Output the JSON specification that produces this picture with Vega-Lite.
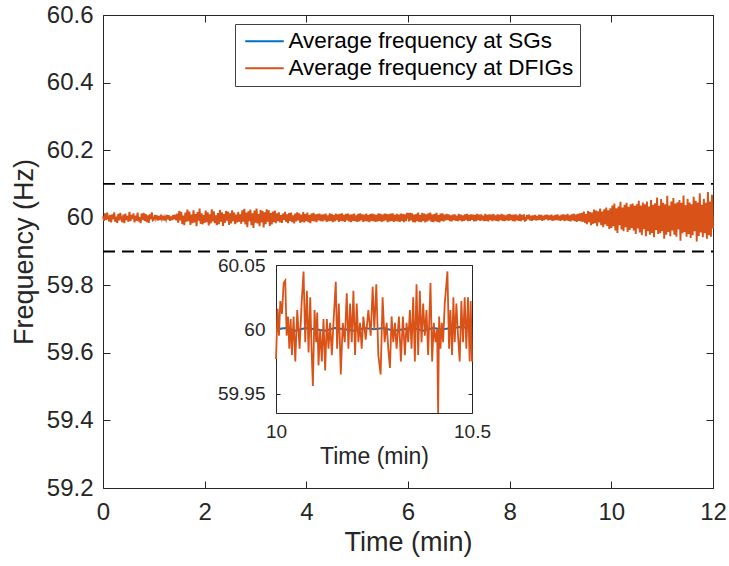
{
"$schema": "https://vega.github.io/schema/vega-lite/v6.json",
"width": 610, "height": 473,
"autosize": {"type": "none"},
"padding": {"left": 103, "top": 15, "right": 16, "bottom": 78},
"background": "white",
"config": {
  "view": {"stroke": null},
  "font": "Liberation Sans",
  "axis": {"domainColor": "#262626", "tickColor": "#262626", "labelColor": "#262626", "titleColor": "#262626", "grid": false, "titleFontWeight": "normal", "labelFont": "Liberation Sans", "titleFont": "Liberation Sans", "domainWidth": 1, "tickWidth": 1, "labelOverlap": false, "labelFlush": false, "labelBound": false},
  "legend": {"labelFont": "Liberation Sans"}
},
"datasets": {
  "limits": [{"f": 60.1}, {"f": 59.9}],
  "sgMain": [{"t":0,"f":60.000},{"t":0.5,"f":60.001},{"t":1,"f":59.999},{"t":1.5,"f":60.001},{"t":2,"f":59.999},{"t":2.5,"f":60.000},{"t":3,"f":60.001},{"t":3.5,"f":59.999},{"t":4,"f":60.000},{"t":4.5,"f":60.001},{"t":5,"f":59.999},{"t":5.5,"f":60.000},{"t":6,"f":60.001},{"t":6.5,"f":59.999},{"t":7,"f":60.000},{"t":7.5,"f":60.001},{"t":8,"f":59.999},{"t":8.5,"f":60.000},{"t":9,"f":60.001},{"t":9.5,"f":59.999},{"t":10,"f":60.000},{"t":10.5,"f":60.001},{"t":11,"f":59.999},{"t":11.5,"f":60.001},{"t":12,"f":60.000}],
  "dfigMain": [
{"t":0.00,"f":60.004},{"t":0.02,"f":59.991},{"t":0.04,"f":60.013},{"t":0.06,"f":59.994},{"t":0.08,"f":60.015},{"t":0.10,"f":60.002},{"t":0.12,"f":59.989},{"t":0.14,"f":60.008},{"t":0.16,"f":59.986},{"t":0.18,"f":60.010},{"t":0.20,"f":59.995},{"t":0.22,"f":60.016},{"t":0.24,"f":59.988},{"t":0.26,"f":60.003},{"t":0.28,"f":59.985},{"t":0.30,"f":60.011},{"t":0.32,"f":59.992},{"t":0.34,"f":60.014},{"t":0.36,"f":59.997},{"t":0.38,"f":59.987},{"t":0.40,"f":60.009},{"t":0.42,"f":59.984},{"t":0.44,"f":60.012},{"t":0.46,"f":59.993},{"t":0.48,"f":60.005},{"t":0.50,"f":59.988},{"t":0.52,"f":60.017},{"t":0.54,"f":59.990},{"t":0.56,"f":60.008},{"t":0.58,"f":59.996},{"t":0.60,"f":60.013},{"t":0.62,"f":59.986},{"t":0.64,"f":60.006},{"t":0.66,"f":59.991},{"t":0.68,"f":60.015},{"t":0.70,"f":59.989},{"t":0.72,"f":60.002},{"t":0.74,"f":59.984},{"t":0.76,"f":60.012},{"t":0.78,"f":59.994},{"t":0.80,"f":60.014},{"t":0.82,"f":59.991},{"t":0.84,"f":60.011},{"t":0.86,"f":59.987},{"t":0.88,"f":60.007},{"t":0.90,"f":59.985},{"t":0.92,"f":60.010},{"t":0.94,"f":59.995},{"t":0.96,"f":60.016},{"t":0.98,"f":59.992},
{"t":1.00,"f":59.994},{"t":1.02,"f":60.008},{"t":1.04,"f":59.997},{"t":1.06,"f":60.007},{"t":1.08,"f":59.992},{"t":1.10,"f":60.005},{"t":1.12,"f":59.993},{"t":1.14,"f":60.009},{"t":1.16,"f":59.996},{"t":1.18,"f":60.006},{"t":1.20,"f":59.992},{"t":1.22,"f":60.003},{"t":1.24,"f":59.994},{"t":1.26,"f":60.008},{"t":1.28,"f":59.995},{"t":1.30,"f":60.007},{"t":1.32,"f":59.991},{"t":1.34,"f":60.004},{"t":1.36,"f":59.993},{"t":1.38,"f":60.008},{"t":1.40,"f":59.995},{"t":1.42,"f":60.009},{"t":1.44,"f":59.992},
{"t":1.46,"f":60.012},{"t":1.48,"f":59.985},{"t":1.50,"f":60.020},{"t":1.52,"f":59.992},{"t":1.54,"f":60.017},{"t":1.56,"f":59.981},{"t":1.58,"f":60.006},{"t":1.60,"f":59.978},{"t":1.62,"f":60.015},{"t":1.64,"f":59.988},{"t":1.66,"f":60.024},{"t":1.68,"f":59.990},{"t":1.70,"f":60.018},{"t":1.72,"f":59.979},{"t":1.74,"f":60.009},{"t":1.76,"f":59.984},{"t":1.78,"f":60.022},{"t":1.80,"f":59.986},{"t":1.82,"f":60.011},{"t":1.84,"f":59.975},{"t":1.86,"f":60.017},{"t":1.88,"f":59.991},{"t":1.90,"f":60.027},{"t":1.92,"f":59.982},{"t":1.94,"f":60.013},{"t":1.96,"f":59.980},{"t":1.98,"f":60.008},{"t":2.00,"f":59.985},{"t":2.02,"f":60.021},{"t":2.04,"f":59.987},{"t":2.06,"f":60.016},{"t":2.08,"f":59.977},{"t":2.10,"f":60.010},{"t":2.12,"f":59.983},{"t":2.14,"f":60.025},{"t":2.16,"f":59.989},{"t":2.18,"f":60.019},{"t":2.20,"f":59.984},{"t":2.22,"f":60.007},{"t":2.24,"f":59.978},{"t":2.26,"f":60.014},{"t":2.28,"f":59.981},{"t":2.30,"f":60.023},{"t":2.32,"f":59.988},{"t":2.34,"f":60.016},{"t":2.36,"f":59.976},{"t":2.38,"f":60.011},{"t":2.40,"f":59.985},{"t":2.42,"f":60.020},{"t":2.44,"f":59.991},{"t":2.46,"f":60.018},{"t":2.48,"f":59.979},{"t":2.50,"f":60.013},{"t":2.52,"f":59.983},{"t":2.54,"f":60.022},{"t":2.56,"f":59.990},{"t":2.58,"f":60.015},{"t":2.60,"f":59.981},{"t":2.62,"f":60.009},{"t":2.64,"f":59.986},{"t":2.66,"f":60.017},{"t":2.68,"f":59.988},{"t":2.70,"f":60.010},
{"t":2.72,"f":59.982},{"t":2.74,"f":60.022},{"t":2.76,"f":59.988},{"t":2.78,"f":60.026},{"t":2.80,"f":59.980},{"t":2.82,"f":60.015},{"t":2.84,"f":59.972},{"t":2.86,"f":60.019},{"t":2.88,"f":59.990},{"t":2.90,"f":60.024},{"t":2.92,"f":59.978},{"t":2.94,"f":60.013},{"t":2.96,"f":59.970},{"t":2.98,"f":60.021},{"t":3.00,"f":59.985},{"t":3.02,"f":60.027},{"t":3.04,"f":59.983},{"t":3.06,"f":60.011},{"t":3.08,"f":59.975},{"t":3.10,"f":60.023},{"t":3.12,"f":59.986},{"t":3.14,"f":60.020},{"t":3.16,"f":59.971},{"t":3.18,"f":60.016},{"t":3.20,"f":59.981},{"t":3.22,"f":60.025},{"t":3.24,"f":59.988},{"t":3.26,"f":60.022},{"t":3.28,"f":59.976},{"t":3.30,"f":60.014},{"t":3.32,"f":59.980},{"t":3.34,"f":60.018},{"t":3.36,"f":59.987},{"t":3.38,"f":60.021},{"t":3.40,"f":59.984},
{"t":3.42,"f":60.013},{"t":3.44,"f":59.990},{"t":3.46,"f":60.016},{"t":3.48,"f":59.986},{"t":3.50,"f":60.008},{"t":3.52,"f":59.985},{"t":3.54,"f":60.012},{"t":3.56,"f":59.994},{"t":3.58,"f":60.017},{"t":3.60,"f":59.988},{"t":3.62,"f":60.010},{"t":3.64,"f":59.984},{"t":3.66,"f":60.014},{"t":3.68,"f":59.991},{"t":3.70,"f":60.015},{"t":3.72,"f":59.987},{"t":3.74,"f":60.007},{"t":3.76,"f":59.983},{"t":3.78,"f":60.012},{"t":3.80,"f":59.989},{"t":3.82,"f":60.016},{"t":3.84,"f":59.992},{"t":3.86,"f":60.013},{"t":3.88,"f":59.985},{"t":3.90,"f":60.009},{"t":3.92,"f":59.988},{"t":3.94,"f":60.017},{"t":3.96,"f":59.986},{"t":3.98,"f":60.011},{"t":4.00,"f":59.990},{"t":4.02,"f":60.015},{"t":4.04,"f":59.987},{"t":4.06,"f":60.008},{"t":4.08,"f":59.984},{"t":4.10,"f":60.012},{"t":4.12,"f":59.991},{"t":4.14,"f":60.014},{"t":4.16,"f":59.989},{"t":4.18,"f":60.010},{"t":4.20,"f":59.987},{"t":4.22,"f":60.011},{"t":4.24,"f":59.992},{"t":4.26,"f":60.012},{"t":4.28,"f":59.990},{"t":4.30,"f":60.009},
{"t":4.32,"f":59.989},{"t":4.34,"f":60.010},{"t":4.36,"f":59.992},{"t":4.38,"f":60.012},{"t":4.40,"f":59.988},{"t":4.42,"f":60.007},{"t":4.44,"f":59.990},{"t":4.46,"f":60.013},{"t":4.48,"f":59.991},{"t":4.50,"f":60.011},{"t":4.52,"f":59.987},{"t":4.54,"f":60.008},{"t":4.56,"f":59.989},{"t":4.58,"f":60.012},{"t":4.60,"f":59.993},{"t":4.62,"f":60.010},{"t":4.64,"f":59.988},{"t":4.66,"f":60.011},{"t":4.68,"f":59.991},{"t":4.70,"f":60.013},{"t":4.72,"f":59.990},{"t":4.74,"f":60.008},{"t":4.76,"f":59.988},{"t":4.78,"f":60.011},{"t":4.80,"f":59.992},{"t":4.82,"f":60.012},{"t":4.84,"f":59.989},{"t":4.86,"f":60.009},{"t":4.88,"f":59.987},{"t":4.90,"f":60.010},{"t":4.92,"f":59.991},{"t":4.94,"f":60.012},{"t":4.96,"f":59.990},{"t":4.98,"f":60.007},{"t":5.00,"f":59.988},{"t":5.02,"f":60.011},{"t":5.04,"f":59.989},{"t":5.06,"f":60.013},{"t":5.08,"f":59.992},{"t":5.10,"f":60.010},{"t":5.12,"f":59.988},{"t":5.14,"f":60.009},{"t":5.16,"f":59.990},{"t":5.18,"f":60.012},{"t":5.20,"f":59.989},{"t":5.22,"f":60.008},{"t":5.24,"f":59.987},{"t":5.26,"f":60.011},{"t":5.28,"f":59.991},{"t":5.30,"f":60.012},{"t":5.32,"f":59.990},{"t":5.34,"f":60.010},{"t":5.36,"f":59.988},{"t":5.38,"f":60.008},{"t":5.40,"f":59.989},{"t":5.42,"f":60.013},{"t":5.44,"f":59.991},{"t":5.46,"f":60.011},{"t":5.48,"f":59.988},{"t":5.50,"f":60.009},{"t":5.52,"f":59.990},{"t":5.54,"f":60.012},{"t":5.56,"f":59.992},{"t":5.58,"f":60.011},{"t":5.60,"f":59.987},{"t":5.62,"f":60.010},{"t":5.64,"f":59.989},{"t":5.66,"f":60.012},{"t":5.68,"f":59.991},{"t":5.70,"f":60.013},{"t":5.72,"f":59.988},{"t":5.74,"f":60.008},{"t":5.76,"f":59.990},{"t":5.78,"f":60.011},{"t":5.80,"f":59.989},{"t":5.82,"f":60.009},{"t":5.84,"f":59.988},{"t":5.86,"f":60.012},{"t":5.88,"f":59.991},{"t":5.90,"f":60.011},{"t":5.92,"f":59.987},{"t":5.94,"f":60.010},{"t":5.96,"f":59.990},{"t":5.98,"f":60.012},
{"t":6.00,"f":60.012},{"t":6.02,"f":59.989},{"t":6.04,"f":60.014},{"t":6.06,"f":59.992},{"t":6.08,"f":60.013},{"t":6.10,"f":59.987},{"t":6.12,"f":60.009},{"t":6.14,"f":59.986},{"t":6.16,"f":60.011},{"t":6.18,"f":59.990},{"t":6.20,"f":60.015},{"t":6.22,"f":59.988},{"t":6.24,"f":60.008},{"t":6.26,"f":59.987},{"t":6.28,"f":60.014},{"t":6.30,"f":59.991},{"t":6.32,"f":60.012},{"t":6.34,"f":59.986},{"t":6.36,"f":60.010},{"t":6.38,"f":59.989},{"t":6.40,"f":60.013},{"t":6.42,"f":59.992},{"t":6.44,"f":60.015},{"t":6.46,"f":59.988},{"t":6.48,"f":60.009},{"t":6.50,"f":59.987},{"t":6.52,"f":60.011},{"t":6.54,"f":59.990},{"t":6.56,"f":60.014},{"t":6.58,"f":59.988},{"t":6.60,"f":60.008},{"t":6.62,"f":59.986},{"t":6.64,"f":60.012},{"t":6.66,"f":59.991},{"t":6.68,"f":60.013},{"t":6.70,"f":59.989},
{"t":6.72,"f":60.009},{"t":6.74,"f":59.992},{"t":6.76,"f":60.011},{"t":6.78,"f":59.994},{"t":6.80,"f":60.010},{"t":6.82,"f":59.990},{"t":6.84,"f":60.007},{"t":6.86,"f":59.989},{"t":6.88,"f":60.009},{"t":6.90,"f":59.993},{"t":6.92,"f":60.010},{"t":6.94,"f":59.991},{"t":6.96,"f":60.006},{"t":6.98,"f":59.990},{"t":7.00,"f":60.011},{"t":7.02,"f":59.992},{"t":7.04,"f":60.009},{"t":7.06,"f":59.989},{"t":7.08,"f":60.007},{"t":7.10,"f":59.991},{"t":7.12,"f":60.010},{"t":7.14,"f":59.993},{"t":7.16,"f":60.011},{"t":7.18,"f":59.990},{"t":7.20,"f":60.008},{"t":7.22,"f":59.991},{"t":7.24,"f":60.010},{"t":7.26,"f":59.994},{"t":7.28,"f":60.009},{"t":7.30,"f":59.989},{"t":7.32,"f":60.008},{"t":7.34,"f":59.990},{"t":7.36,"f":60.011},{"t":7.38,"f":59.993},{"t":7.40,"f":60.009},{"t":7.42,"f":59.991},{"t":7.44,"f":60.010},{"t":7.46,"f":59.992},{"t":7.48,"f":60.006},{"t":7.50,"f":59.990},{"t":7.52,"f":60.011},{"t":7.54,"f":59.991},{"t":7.56,"f":60.008},{"t":7.58,"f":59.989},{"t":7.60,"f":60.010},{"t":7.62,"f":59.993},{"t":7.64,"f":60.009},{"t":7.66,"f":59.990},{"t":7.68,"f":60.011},{"t":7.70,"f":59.992},{"t":7.72,"f":60.007},{"t":7.74,"f":59.991},{"t":7.76,"f":60.010},{"t":7.78,"f":59.989},{"t":7.80,"f":60.008},{"t":7.82,"f":59.993},{"t":7.84,"f":60.011},{"t":7.86,"f":59.991},{"t":7.88,"f":60.009},{"t":7.90,"f":59.990},{"t":7.92,"f":60.007},{"t":7.94,"f":59.992},{"t":7.96,"f":60.010},{"t":7.98,"f":59.991},{"t":8.00,"f":60.011},{"t":8.02,"f":59.993},{"t":8.04,"f":60.008},{"t":8.06,"f":59.990},{"t":8.08,"f":60.009},{"t":8.10,"f":59.989},{"t":8.12,"f":60.010},{"t":8.14,"f":59.992},{"t":8.16,"f":60.007},{"t":8.18,"f":59.991},{"t":8.20,"f":60.011},{"t":8.22,"f":59.990},{"t":8.24,"f":60.008},{"t":8.26,"f":59.993},{"t":8.28,"f":60.010},{"t":8.30,"f":59.991},
{"t":8.32,"f":59.993},{"t":8.34,"f":60.008},{"t":8.36,"f":59.995},{"t":8.38,"f":60.009},{"t":8.40,"f":59.992},{"t":8.42,"f":60.006},{"t":8.44,"f":59.991},{"t":8.46,"f":60.007},{"t":8.48,"f":59.994},{"t":8.50,"f":60.008},{"t":8.52,"f":59.992},{"t":8.54,"f":60.005},{"t":8.56,"f":59.993},{"t":8.58,"f":60.009},{"t":8.60,"f":59.994},{"t":8.62,"f":60.008},{"t":8.64,"f":59.991},{"t":8.66,"f":60.006},{"t":8.68,"f":59.993},{"t":8.70,"f":60.008},{"t":8.72,"f":59.995},{"t":8.74,"f":60.009},{"t":8.76,"f":59.992},{"t":8.78,"f":60.007},{"t":8.80,"f":59.994},{"t":8.82,"f":60.009},{"t":8.84,"f":59.991},{"t":8.86,"f":60.006},{"t":8.88,"f":59.992},{"t":8.90,"f":60.008},{"t":8.92,"f":59.993},{"t":8.94,"f":60.010},{"t":8.96,"f":59.992},{"t":8.98,"f":60.006},{"t":9.00,"f":59.991},{"t":9.02,"f":60.009},{"t":9.04,"f":59.993},{"t":9.06,"f":60.010},{"t":9.08,"f":59.990},{"t":9.10,"f":60.008},{"t":9.12,"f":59.992},{"t":9.14,"f":60.011},{"t":9.16,"f":59.991},{"t":9.18,"f":60.007},{"t":9.20,"f":59.989},{"t":9.22,"f":60.010},{"t":9.24,"f":59.992},{"t":9.26,"f":60.012},{"t":9.28,"f":59.990},{"t":9.30,"f":60.009},{"t":9.32,"f":59.988},{"t":9.34,"f":60.011},{"t":9.36,"f":59.991},{"t":9.38,"f":60.013},{"t":9.40,"f":59.989},
{"t":9.42,"f":60.014},{"t":9.44,"f":59.988},{"t":9.46,"f":60.018},{"t":9.48,"f":59.985},{"t":9.50,"f":60.011},{"t":9.52,"f":59.981},{"t":9.54,"f":60.020},{"t":9.56,"f":59.987},{"t":9.58,"f":60.017},{"t":9.60,"f":59.978},{"t":9.62,"f":60.015},{"t":9.64,"f":59.982},{"t":9.66,"f":60.024},{"t":9.68,"f":59.984},{"t":9.70,"f":60.021},{"t":9.72,"f":59.975},{"t":9.74,"f":60.019},{"t":9.76,"f":59.986},{"t":9.78,"f":60.027},{"t":9.80,"f":59.978},{"t":9.82,"f":60.018},{"t":9.84,"f":59.972},{"t":9.86,"f":60.025},{"t":9.88,"f":59.980},{"t":9.90,"f":60.030},{"t":9.92,"f":59.976},{"t":9.94,"f":60.022},{"t":9.96,"f":59.967},{"t":9.98,"f":60.028},
{"t":10.00,"f":59.970},{"t":10.02,"f":60.036},{"t":10.04,"f":59.975},{"t":10.06,"f":60.042},{"t":10.08,"f":59.962},{"t":10.10,"f":60.028},{"t":10.12,"f":59.955},{"t":10.14,"f":60.033},{"t":10.16,"f":59.978},{"t":10.18,"f":60.047},{"t":10.20,"f":59.965},{"t":10.22,"f":60.030},{"t":10.24,"f":59.960},{"t":10.26,"f":60.038},{"t":10.28,"f":59.972},{"t":10.30,"f":60.044},{"t":10.32,"f":59.958},{"t":10.34,"f":60.032},{"t":10.36,"f":59.964},{"t":10.38,"f":60.040},{"t":10.40,"f":59.970},
{"t":10.42,"f":60.042},{"t":10.44,"f":59.962},{"t":10.46,"f":60.035},{"t":10.48,"f":59.952},{"t":10.50,"f":60.040},{"t":10.52,"f":59.968},{"t":10.54,"f":60.050},{"t":10.56,"f":59.956},{"t":10.58,"f":60.036},{"t":10.60,"f":59.948},{"t":10.62,"f":60.045},{"t":10.64,"f":59.966},{"t":10.66,"f":60.040},{"t":10.68,"f":59.945},{"t":10.70,"f":60.048},{"t":10.72,"f":59.960},{"t":10.74,"f":60.033},{"t":10.76,"f":59.950},{"t":10.78,"f":60.052},{"t":10.80,"f":59.955},{"t":10.82,"f":60.038},{"t":10.84,"f":59.942},{"t":10.86,"f":60.043},{"t":10.88,"f":59.964},{"t":10.90,"f":60.060},{"t":10.92,"f":59.952},{"t":10.94,"f":60.035},{"t":10.96,"f":59.954},{"t":10.98,"f":60.055},{"t":11.00,"f":59.960},{"t":11.02,"f":60.044},{"t":11.04,"f":59.938},{"t":11.06,"f":60.040},{"t":11.08,"f":59.950},{"t":11.10,"f":60.065},{"t":11.12,"f":59.958},{"t":11.14,"f":60.036},{"t":11.16,"f":59.945},{"t":11.18,"f":60.048},{"t":11.20,"f":59.962},{"t":11.22,"f":60.058},{"t":11.24,"f":59.950},{"t":11.26,"f":60.042},{"t":11.28,"f":59.944},{"t":11.30,"f":60.046},{"t":11.32,"f":59.965},{"t":11.34,"f":60.052},{"t":11.36,"f":59.932},{"t":11.38,"f":60.044},{"t":11.40,"f":59.954},{"t":11.42,"f":60.066},{"t":11.44,"f":59.958},{"t":11.46,"f":60.037},{"t":11.48,"f":59.944},{"t":11.50,"f":60.055},{"t":11.52,"f":59.952},{"t":11.54,"f":60.045},{"t":11.56,"f":59.940},{"t":11.58,"f":60.040},{"t":11.60,"f":59.948},{"t":11.62,"f":60.062},{"t":11.64,"f":59.960},{"t":11.66,"f":60.050},{"t":11.68,"f":59.930},{"t":11.70,"f":60.045},{"t":11.72,"f":59.946},{"t":11.74,"f":60.072},{"t":11.76,"f":59.956},{"t":11.78,"f":60.038},{"t":11.80,"f":59.942},{"t":11.82,"f":60.056},{"t":11.84,"f":59.954},{"t":11.86,"f":60.044},{"t":11.88,"f":59.938},{"t":11.90,"f":60.076},{"t":11.92,"f":59.948},{"t":11.94,"f":60.048},{"t":11.96,"f":59.944},{"t":11.98,"f":60.068},{"t":12.00,"f":59.968}
  ],
  "sgInset": [{"t":10.000,"f":60.000},{"t":10.025,"f":60.001},{"t":10.050,"f":59.999},{"t":10.075,"f":60.001},{"t":10.100,"f":60.000},{"t":10.125,"f":59.999},{"t":10.150,"f":60.001},{"t":10.175,"f":60.000},{"t":10.200,"f":59.999},{"t":10.225,"f":60.001},{"t":10.250,"f":60.000},{"t":10.275,"f":60.001},{"t":10.300,"f":59.999},{"t":10.325,"f":60.000},{"t":10.350,"f":60.001},{"t":10.375,"f":59.999},{"t":10.400,"f":60.001},{"t":10.425,"f":60.000},{"t":10.450,"f":60.001},{"t":10.475,"f":60.002},{"t":10.500,"f":60.000}],
  "dfigInset": [
{"t":10.0000,"f":59.977},{"t":10.0042,"f":60.016},{"t":10.0076,"f":59.995},{"t":10.0110,"f":60.022},{"t":10.0153,"f":60.012},{"t":10.0195,"f":60.036},{"t":10.0237,"f":60.038},{"t":10.0271,"f":59.995},{"t":10.0305,"f":60.010},{"t":10.0339,"f":59.985},{"t":10.0373,"f":60.008},{"t":10.0407,"f":59.980},{"t":10.0449,"f":60.010},{"t":10.0492,"f":59.975},{"t":10.0542,"f":60.015},{"t":10.0602,"f":59.985},{"t":10.0653,"f":60.020},{"t":10.0703,"f":60.045},{"t":10.0746,"f":59.990},{"t":10.0788,"f":60.030},{"t":10.0831,"f":59.982},{"t":10.0873,"f":60.025},{"t":10.0907,"f":59.985},{"t":10.0941,"f":59.956},{"t":10.0983,"f":60.015},{"t":10.1025,"f":59.990},{"t":10.1051,"f":60.013},{"t":10.1085,"f":59.972},{"t":10.1127,"f":60.000},{"t":10.1169,"f":59.975},{"t":10.1212,"f":60.008},{"t":10.1254,"f":59.968},{"t":10.1297,"f":60.008},{"t":10.1339,"f":59.985},{"t":10.1381,"f":60.005},{"t":10.1424,"f":59.980},{"t":10.1475,"f":60.010},{"t":10.1525,"f":60.037},{"t":10.1559,"f":59.985},{"t":10.1602,"f":60.020},{"t":10.1653,"f":59.965},{"t":10.1703,"f":60.005},{"t":10.1754,"f":59.990},{"t":10.1805,"f":60.028},{"t":10.1847,"f":59.985},{"t":10.1890,"f":60.020},{"t":10.1932,"f":59.990},{"t":10.1975,"f":60.030},{"t":10.2017,"f":59.980},{"t":10.2059,"f":60.020},{"t":10.2102,"f":59.990},{"t":10.2144,"f":60.005},{"t":10.2186,"f":59.985},{"t":10.2229,"f":60.010},{"t":10.2288,"f":59.992},{"t":10.2356,"f":60.015},{"t":10.2415,"f":59.995},{"t":10.2466,"f":60.033},{"t":10.2508,"f":60.000},{"t":10.2559,"f":60.035},{"t":10.2610,"f":59.980},{"t":10.2669,"f":59.965},{"t":10.2720,"f":60.025},{"t":10.2771,"f":59.990},{"t":10.2822,"f":60.005},{"t":10.2864,"f":59.985},{"t":10.2907,"f":59.970},{"t":10.2949,"f":60.010},{"t":10.2992,"f":59.990},{"t":10.3034,"f":60.005},{"t":10.3076,"f":59.985},{"t":10.3136,"f":60.010},{"t":10.3186,"f":59.975},{"t":10.3237,"f":60.010},{"t":10.3288,"f":59.980},{"t":10.3331,"f":60.005},{"t":10.3373,"f":59.990},{"t":10.3415,"f":60.015},{"t":10.3458,"f":59.985},{"t":10.3500,"f":60.025},{"t":10.3542,"f":59.975},{"t":10.3585,"f":60.035},{"t":10.3627,"f":59.980},{"t":10.3669,"f":60.030},{"t":10.3712,"f":59.990},{"t":10.3754,"f":60.020},{"t":10.3797,"f":59.995},{"t":10.3839,"f":60.015},{"t":10.3881,"f":59.980},{"t":10.3941,"f":60.036},{"t":10.3983,"f":59.975},{"t":10.4025,"f":60.005},{"t":10.4068,"f":59.990},{"t":10.4110,"f":60.000},{"t":10.4136,"f":59.935},{"t":10.4161,"f":60.010},{"t":10.4195,"f":59.985},{"t":10.4229,"f":60.005},{"t":10.4263,"f":59.990},{"t":10.4305,"f":60.020},{"t":10.4373,"f":60.045},{"t":10.4415,"f":59.985},{"t":10.4449,"f":60.015},{"t":10.4492,"f":59.980},{"t":10.4525,"f":60.025},{"t":10.4559,"f":59.990},{"t":10.4602,"f":60.020},{"t":10.4644,"f":59.995},{"t":10.4686,"f":59.975},{"t":10.4729,"f":60.022},{"t":10.4771,"f":59.990},{"t":10.4814,"f":60.025},{"t":10.4856,"f":59.985},{"t":10.4898,"f":60.025},{"t":10.4941,"f":59.975},{"t":10.4966,"f":60.022},{"t":10.5000,"f":59.975}
  ],
  "one": [{"k": 1}]
},
"resolve": {"scale": {"x": "independent", "y": "independent"}, "axis": {"x": "independent", "y": "independent"}},
"layer": [
  {
    "encoding": {
      "x": {"field": "t", "type": "quantitative", "scale": {"domain": [0, 12], "nice": false, "zero": false},
            "axis": {"orient": "bottom", "offset": 0, "values": [0, 2, 4, 6, 8, 10, 12], "title": "Time (min)", "labelFontSize": 24, "titleFontSize": 27, "tickSize": -7, "labelPadding": 19, "titlePadding": 5}},
      "y": {"field": "f", "type": "quantitative", "scale": {"domain": [59.2, 60.6], "nice": false, "zero": false},
            "axis": {"orient": "left", "offset": 0, "values": [59.2, 59.4, 59.6, 59.8, 60, 60.2, 60.4, 60.6], "format": ".1~f", "title": "Frequency (Hz)", "labelFontSize": 24, "titleFontSize": 27, "tickSize": -7, "labelPadding": 17, "titlePadding": 8}}
    },
    "layer": [
      {"data": {"name": "sgMain"}, "mark": {"type": "line", "strokeWidth": 1.5},
       "encoding": {"color": {"datum": "Average frequency at SGs", "type": "nominal",
          "scale": {"domain": ["Average frequency at SGs", "Average frequency at DFIGs"], "range": ["#0072BD", "#D95319"]},
          "legend": {"orient": "none", "legendX": 132, "legendY": 9, "title": null, "symbolType": "M-1,0H4.5", "symbolSize": 196, "symbolStrokeWidth": 2, "symbolFillColor": "transparent", "labelFontSize": 22.5, "labelLimit": 0, "labelColor": "#000000", "strokeColor": "#404040", "fillColor": "white", "padding": 6, "rowPadding": 4, "labelOffset": 25}}}},
      {"data": {"name": "dfigMain"}, "mark": {"type": "line", "strokeWidth": 1.9},
       "encoding": {"color": {"datum": "Average frequency at DFIGs", "type": "nominal"}}}
    ]
  },
  {
    "data": {"name": "limits"},
    "mark": {"type": "rule", "strokeDash": [12, 7], "strokeWidth": 1.8, "color": "#000000"},
    "encoding": {
      "y": {"field": "f", "type": "quantitative", "scale": {"domain": [59.2, 60.6], "nice": false, "zero": false},
            "axis": {"orient": "right", "offset": 0, "values": [59.2, 59.4, 59.6, 59.8, 60, 60.2, 60.4, 60.6], "labels": false, "title": null, "tickSize": -7}},
      "x": {"datum": 0, "type": "quantitative", "scale": {"domain": [0, 12], "nice": false, "zero": false},
            "axis": {"orient": "top", "offset": 0, "values": [0, 2, 4, 6, 8, 10, 12], "labels": false, "title": null, "tickSize": -7}},
      "x2": {"datum": 12}
    }
  },
  {
    "encoding": {
      "x": {"field": "t", "type": "quantitative", "scale": {"domain": [10, 10.5], "range": [173, 369], "nice": false, "zero": false},
            "axis": {"orient": "bottom", "offset": -75, "values": [10, 10.5], "format": ".1~f", "title": "Time (min)", "labelFontSize": 19, "titleFontSize": 23, "tickSize": -4, "labelPadding": 13, "titlePadding": 4}},
      "y": {"field": "f", "type": "quantitative", "scale": {"domain": [59.935, 60.05], "range": [398, 250], "nice": false, "zero": false},
            "axis": {"orient": "left", "offset": -173, "values": [59.95, 60, 60.05], "format": ".2~f", "title": null, "labelFontSize": 19, "tickSize": -4, "labelPadding": 15}}
    },
    "layer": [
      {"data": {"name": "sgInset"}, "mark": {"type": "line", "strokeWidth": 2},
       "encoding": {"color": {"datum": "Average frequency at SGs", "type": "nominal"}}},
      {"data": {"name": "dfigInset"}, "mark": {"type": "line", "strokeWidth": 1.8},
       "encoding": {"color": {"datum": "Average frequency at DFIGs", "type": "nominal"}}}
    ]
  },
  {
    "data": {"name": "one"},
    "mark": {"type": "point", "opacity": 0},
    "encoding": {
      "x": {"datum": 10, "type": "quantitative", "scale": {"domain": [10, 10.5], "range": [173, 369], "nice": false, "zero": false},
            "axis": {"orient": "top", "offset": -250, "values": [10, 10.5], "labels": false, "title": null, "tickSize": -4}},
      "y": {"datum": 60, "type": "quantitative", "scale": {"domain": [59.935, 60.05], "range": [398, 250], "nice": false, "zero": false},
            "axis": {"orient": "right", "offset": -241, "values": [59.95, 60, 60.05], "labels": false, "title": null, "tickSize": -4}}
    }
  }
]
}
